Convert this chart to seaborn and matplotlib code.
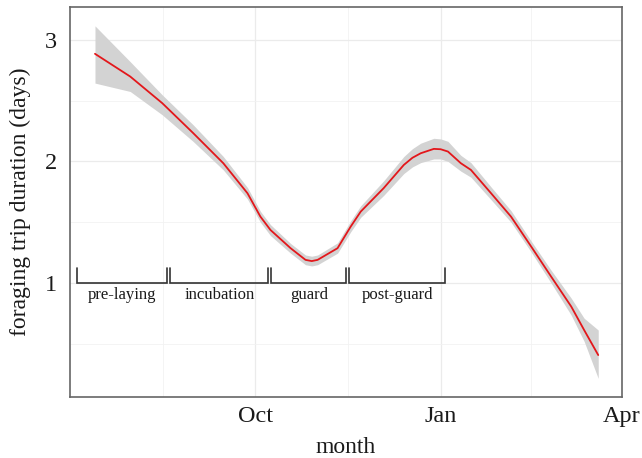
import matplotlib
matplotlib.use("Agg")
import matplotlib.pyplot as plt
import seaborn as sns
import pandas as pd

# Smoothed foraging trip duration over the breeding season
# (x = days since 1 July)
day = [12.4, 29.9, 45.8, 61.2, 76.1, 88.1, 94.5, 99.5, 109.5, 116.9, 120.0,
       122.9, 132.8, 139.3, 144.3, 155.7, 165.7, 170.0, 174.1, 180.6, 184.0,
       187.6, 194.0, 199.0, 209.0, 218.9, 228.9, 238.8, 248.8, 255.2, 262.2]
duration = [2.885, 2.698, 2.479, 2.232, 1.985, 1.738, 1.546, 1.436, 1.286, 1.19, 1.18,
            1.19, 1.286, 1.463, 1.587, 1.78, 1.971, 2.03, 2.067, 2.103, 2.10,
            2.081, 1.985, 1.93, 1.738, 1.546, 1.30, 1.053, 0.806, 0.613, 0.407]
ci_low = [2.644, 2.575, 2.383, 2.163, 1.93, 1.69, 1.50, 1.39, 1.245, 1.15, 1.14,
          1.15, 1.245, 1.42, 1.54, 1.72, 1.90, 1.955, 1.99, 2.02, 2.02,
          2.00, 1.92, 1.87, 1.685, 1.50, 1.255, 1.00, 0.735, 0.52, 0.215]
ci_high = [3.115, 2.82, 2.547, 2.30, 2.04, 1.785, 1.59, 1.48, 1.325, 1.23, 1.22,
           1.23, 1.33, 1.51, 1.635, 1.84, 2.04, 2.105, 2.15, 2.19, 2.185,
           2.165, 2.05, 1.99, 1.79, 1.595, 1.345, 1.105, 0.875, 0.71, 0.613]

# Breeding phases (start / end day)
phases = ["pre-laying", "incubation", "guard", "post-guard"]
phase_start = [3.5, 49.7, 100.0, 138.7]
phase_end = [48.2, 98.5, 137.2, 186.0]

month_ticks = [92, 184, 274]
month_labels = ["Oct", "Jan", "Apr"]
month_minor = [46, 138, 229]
y_ticks = [1, 2, 3]
y_minor = [0.5, 1.5, 2.5]

df = pd.DataFrame({"day": day, "duration": duration, "lo": ci_low, "hi": ci_high})

sns.set_theme(style="white")
plt.rcParams["font.family"] = ["Liberation Serif", "DejaVu Serif"]

fig = plt.figure(figsize=(6.42, 4.58), dpi=100)
ax = fig.add_axes([70 / 642, 61 / 458, 552 / 642, 390 / 458])

ax.fill_between(df["day"], df["lo"], df["hi"], color="#d3d3d3", linewidth=0, zorder=2)
sns.lineplot(data=df, x="day", y="duration", color="#e3171b", linewidth=1.3,
             ax=ax, zorder=3)

# phase brackets
for name, s, e in zip(phases, phase_start, phase_end):
    ax.plot([s, s, e, e], [1.12, 1.0, 1.0, 1.12], color="#333333",
            linewidth=1.2, zorder=4, solid_joinstyle="miter")
    ax.text((s + e) / 2, 0.905, name, ha="center", va="center",
            fontsize=12, color="#1a1a1a", zorder=5)

ax.set_xlim(0, 274)
ax.set_ylim(0.062, 3.27)
ax.set_xticks(month_ticks)
ax.set_xticklabels(month_labels)
ax.set_xticks(month_minor, minor=True)
ax.set_yticks(y_ticks)
ax.set_yticks(y_minor, minor=True)

ax.grid(True, which="major", color="#ebebeb", linewidth=0.9, zorder=0)
ax.grid(True, which="minor", color="#f2f2f2", linewidth=0.6, zorder=0)
ax.set_axisbelow(True)

for sp in ax.spines.values():
    sp.set_visible(True)
    sp.set_color("#666666")
    sp.set_linewidth(1.2)

ax.tick_params(axis="both", which="major", length=3.5, width=1.0, color="#666666",
               labelsize=17.5, labelcolor="#1a1a1a")
ax.tick_params(axis="x", which="major", pad=3)
ax.tick_params(axis="y", which="major", pad=6)
ax.tick_params(axis="both", which="minor", length=0)

ax.set_xlabel("month", fontsize=17, color="#1a1a1a", labelpad=7)
ax.set_ylabel("foraging trip duration (days)", fontsize=17, color="#1a1a1a", labelpad=10)

fig.savefig("out.png", dpi=100, facecolor="white")
